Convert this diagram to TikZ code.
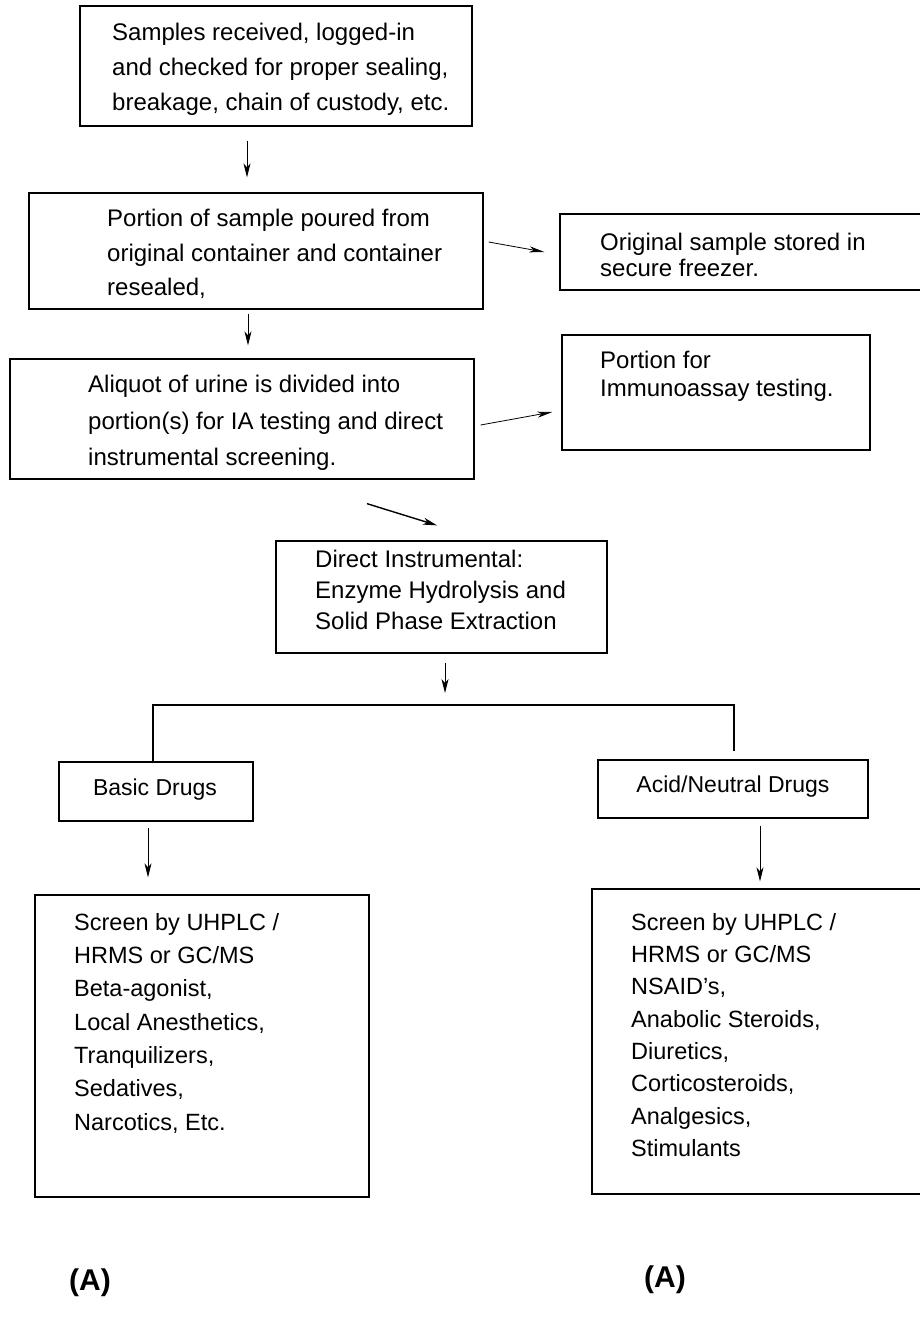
\documentclass[tikz,border=0pt]{standalone}
\usepackage{fontspec}
\setmainfont{Liberation Sans}
\usetikzlibrary{arrows.meta}
\begin{document}
\begin{tikzpicture}[x=1pt,y=-1pt,
  box/.style={draw, line width=1.3pt, rectangle, inner sep=0pt},
  txt/.style={anchor=north west, inner sep=0pt, align=left},
  arr/.style={line width=0.9pt, -{Stealth[length=14pt,width=7pt,inset=4pt]}},
  sidearr/.style={line width=0.8pt, -{Stealth[length=15pt,width=6pt,inset=4pt]}},
  fork/.style={line width=1.8pt},
  lab/.style={font=\fontsize{30}{34}\selectfont\bfseries, inner sep=0pt}
]
\useasboundingbox (0,0) rectangle (919,1330);

% boxes
\node[box, minimum width=392pt, minimum height=120pt] (b1) at (276,66) {};
\node[box, minimum width=454pt, minimum height=116pt] (b2) at (256,251) {};
\node[box, minimum width=464pt, minimum height=120pt] (b3) at (242,419) {};
\node[box, minimum width=370pt, minimum height=76pt]  (fz) at (745,252) {};
\node[box, minimum width=308pt, minimum height=115pt] (ia) at (716,392.5) {};
\node[box, minimum width=331pt, minimum height=112pt] (di) at (441.5,597) {};
\node[box, minimum width=194pt, minimum height=59pt]  (bd) at (156,791.5) {};
\node[box, minimum width=270pt, minimum height=58pt]  (ad) at (733,789) {};
\node[box, minimum width=334pt, minimum height=302pt] (sl) at (202,1046) {};
\node[box, minimum width=338pt, minimum height=305pt] (sr) at (761,1041.5) {};

% texts
\node[txt, font=\fontsize{24}{35}\selectfont] (t1) at (112,23)
  {Samples received, logged-in\\and checked for proper sealing,\\breakage, chain of custody, etc.};
\node[txt, font=\fontsize{24}{34.5}\selectfont] (t2) at (107,209)
  {Portion of sample poured from\\original container and container\\resealed,};
\node[txt, font=\fontsize{24}{36.5}\selectfont] (t3) at (88,375)
  {Aliquot of urine is divided into\\portion(s) for IA testing and direct\\instrumental screening.};
\node[txt, font=\fontsize{24}{26}\selectfont] (t4) at (600,233)
  {Original sample stored in\\secure freezer.};
\node[txt, font=\fontsize{24}{28}\selectfont] (t5) at (600,351)
  {Portion for\\Immunoassay testing.};
\node[txt, font=\fontsize{24}{31}\selectfont] (t6) at (315,550)
  {Direct Instrumental:\\Enzyme Hydrolysis and\\Solid Phase Extraction};
\node[font=\fontsize{23}{28}\selectfont, inner sep=0pt] (t7) at (155,790) {Basic Drugs};
\node[font=\fontsize{23}{28}\selectfont, inner sep=0pt] (t8) at (733,787) {Acid/Neutral Drugs};
\node[txt, font=\fontsize{23.5}{33.3}\selectfont] (t9) at (74,913)
  {Screen by UHPLC /\\HRMS or GC/MS\\Beta-agonist,\\Local Anesthetics,\\Tranquilizers,\\Sedatives,\\Narcotics, Etc.};
\node[txt, font=\fontsize{23.5}{32.3}\selectfont] (t10) at (631,913)
  {Screen by UHPLC /\\HRMS or GC/MS\\NSAID's,\\Anabolic Steroids,\\Diuretics,\\Corticosteroids,\\Analgesics,\\Stimulants};

% labels
\node[lab] (la) at (90,1283) {(A)};
\node[lab] (lb) at (665,1280) {(A)};

% connectors
\coordinate (c1) at (247,0);
\draw[arr, shorten <=14pt, shorten >=15pt] (b1.south -| c1) -- (b2.north -| c1);
\coordinate (c2) at (248,0);
\draw[arr, shorten <=4pt, shorten >=13pt] (b2.south -| c2) -- (b3.north -| c2);
\draw[sidearr] ([xshift=5pt,yshift=9pt]b2.east) -- ([xshift=-15pt]fz.west);
\draw[sidearr] ([xshift=6pt,yshift=-6pt]b3.east) -- ([xshift=-9pt,yshift=-19.5pt]ia.west);
\draw[arr, line width=1.4pt] ([xshift=125pt,yshift=-24pt]b3.south) -- ([xshift=-4.5pt,yshift=15pt]di.north);
\coordinate (c4) at (445,0);
\coordinate (fk) at (445,705);
\draw[arr, shorten <=9pt, shorten >=12pt] (di.south -| c4) -- (fk);
\draw[fork] ([xshift=-3pt]bd.north) |- (fk) -| ([xshift=1pt,yshift=8pt]ad.north);
\coordinate (c5) at (148,0);
\draw[arr, shorten <=6pt, shorten >=17pt] (bd.south -| c5) -- (sl.north -| c5);
\coordinate (c6) at (760,0);
\draw[arr, shorten <=7pt, shorten >=7pt] (ad.south -| c6) -- (sr.north -| c6);
\end{tikzpicture}
\end{document}
